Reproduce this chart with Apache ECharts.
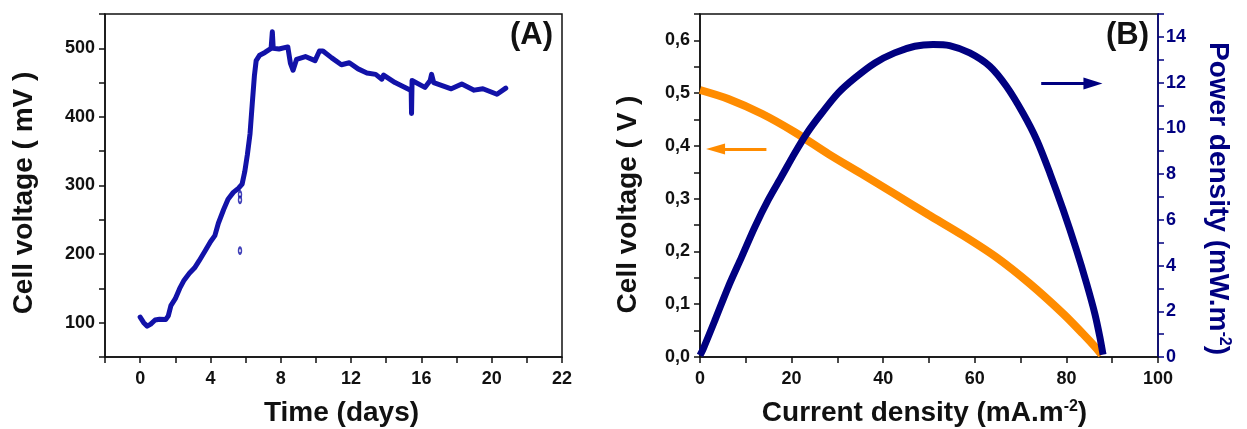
<!DOCTYPE html>
<html><head><meta charset="utf-8">
<script src="https://cdn.jsdelivr.net/npm/echarts@6/dist/echarts.min.js"></script>
<style>html,body{margin:0;padding:0;background:#fff}#c{width:1247px;height:429px}</style>
</head><body><div id="c"></div>
<script>
// ---- Panel A: cell voltage vs time ----
const timeDays = [0, 0.2, 0.4, 0.6, 0.85, 1.1, 1.45, 1.6, 1.75, 2.0, 2.25, 2.5, 2.8, 3.1, 3.35, 3.7, 4.0, 4.25, 4.45, 4.75, 5.0, 5.3, 5.6, 5.8, 5.95, 6.1, 6.25, 6.38, 6.5, 6.6, 6.8, 7.1, 7.45, 7.52, 7.57, 7.9, 8.4, 8.55, 8.7, 8.9, 9.4, 9.95, 10.2, 10.4, 10.9, 11.45, 11.9, 12.4, 12.9, 13.4, 13.75, 13.85, 14.5, 15.3, 15.42, 15.44, 15.47, 16.2, 16.5, 16.58, 16.7, 17.7, 18.3, 19.0, 19.5, 20.3, 20.8];
const cellVoltageMV = [108, 100, 95, 98, 104, 105, 104.5, 110, 125, 135, 150, 162, 172, 180, 190, 205, 218, 227, 245, 265, 280, 290, 296, 302, 320, 345, 375, 420, 460, 482, 490, 494, 500, 524, 500, 499, 502, 478, 468, 484, 488, 482, 496, 496, 486, 476, 479, 470, 464, 462, 455, 461, 450, 440, 438, 405, 453, 443, 453, 462, 450, 441, 448, 439, 441, 433, 442];
const outlierDays = [5.68, 5.68, 5.68];
const outlierMV = [287, 279, 205];
const timeTickLabels = {0: '0', 4: '4', 8: '8', 12: '12', 16: '16', 20: '20', 24: '22'};

// ---- Panel B: polarization and power curves ----
const vCurrent = [0, 6.2, 13.5, 20.7, 28, 35.3, 42.5, 49.8, 57.5, 64.7, 72, 79.3, 83.6, 86.6, 87.7];
const cellVoltageV = [0.506, 0.489, 0.461, 0.426, 0.385, 0.347, 0.309, 0.270, 0.230, 0.189, 0.139, 0.082, 0.044, 0.016, 0.004];
const pCurrent = [0, 0.73, 3.27, 6.18, 9.1, 12.0, 14.9, 17.8, 20.7, 23.6, 26.6, 30.2, 33.8, 38.2, 42.5, 46.9, 50.9, 54.5, 58.9, 63.3, 66.9, 70.5, 73.5, 76.4, 79.3, 82.2, 84.4, 86.2, 87.3, 88.0];
const powerDensity = [0.07, 0.37, 1.61, 3.07, 4.38, 5.7, 6.87, 7.89, 8.92, 9.86, 10.67, 11.55, 12.2, 12.86, 13.3, 13.59, 13.67, 13.62, 13.3, 12.71, 11.84, 10.67, 9.5, 8.04, 6.43, 4.68, 3.22, 1.9, 0.88, 0.1];

const FONT = "'Liberation Sans', Arial, sans-serif";
const BLACK = '#111';
const NAVY = '#000080';
const ORANGE = '#FF8C00';
const LINEBLUE = '#1212a8';

const zip = (a, b) => a.map((x, i) => [x, b[i]]);

const axisLineBlack = {show: true, onZero: false, lineStyle: {color: BLACK, width: 1.5}};
const tickBlack = {show: true, length: 6, lineStyle: {color: BLACK, width: 1.5}};
const labelStyle = {fontFamily: FONT, fontSize: 18, fontWeight: 'bold', color: BLACK};
const nameStyle = {fontFamily: FONT, fontSize: 28, fontWeight: 'bold', color: BLACK};
const supStyle = {fontFamily: FONT, fontSize: 16, fontWeight: 'bold', color: BLACK, verticalAlign: 'top'};

const chart = echarts.init(document.getElementById('c'), null, {renderer: 'canvas'});
chart.setOption({
  backgroundColor: '#fff',
  animation: false,
  grid: [
    {left: 105, right: 685, top: 14, bottom: 72, show: true, borderColor: BLACK, borderWidth: 1.5, backgroundColor: 'transparent', outerBoundsMode: 'none', containLabel: false},
    {left: 700, right: 89, top: 14, bottom: 72, show: true, borderColor: BLACK, borderWidth: 1.5, backgroundColor: 'transparent', outerBoundsMode: 'none', containLabel: false}
  ],
  xAxis: [
    {type: 'value', gridIndex: 0, min: -2, max: 24, interval: 2,
     axisLine: axisLineBlack, axisTick: tickBlack, splitLine: {show: false},
     axisLabel: Object.assign({margin: 13, formatter: v => timeTickLabels[Math.round(v)] || ''}, labelStyle),
     name: 'Time (days)', nameLocation: 'middle', nameGap: 42, nameMoveOverlap: false,
     nameTextStyle: Object.assign({padding: [0, 0, 0, 16]}, nameStyle)},
    {type: 'value', gridIndex: 1, min: 0, max: 100, interval: 10,
     axisLine: axisLineBlack, axisTick: tickBlack, splitLine: {show: false},
     axisLabel: Object.assign({margin: 13, formatter: v => (Math.round(v) % 20 === 0 ? String(Math.round(v)) : '')}, labelStyle),
     name: '{b|Current density (mA.m}{s|-2}{b|)}', nameLocation: 'middle', nameGap: 42, nameMoveOverlap: false,
     nameTextStyle: {padding: [0, 9, 0, 0], rich: {b: nameStyle, s: supStyle}}}
  ],
  yAxis: [
    {type: 'value', gridIndex: 0, min: 50, max: 550, interval: 50,
     axisLine: axisLineBlack, axisTick: tickBlack, splitLine: {show: false},
     axisLabel: Object.assign({margin: 10, formatter: v => (Math.round(v) % 100 === 0 ? String(Math.round(v)) : '')}, labelStyle),
     name: 'Cell voltage ( mV )', nameLocation: 'middle', nameRotate: 90, nameGap: 67, nameMoveOverlap: false,
     nameTextStyle: Object.assign({padding: [0, 15, 0, 0]}, nameStyle)},
    {type: 'value', gridIndex: 1, min: 0, max: 0.65, interval: 0.05,
     axisLine: axisLineBlack, axisTick: tickBlack, splitLine: {show: false},
     axisLabel: Object.assign({margin: 10, formatter: v => { const r = Math.round(v * 100); return r % 10 === 0 ? (r / 100).toFixed(1).replace('.', ',') : ''; }}, labelStyle),
     name: 'Cell voltage ( V )', nameLocation: 'middle', nameRotate: 90, nameGap: 58, nameMoveOverlap: false,
     nameTextStyle: Object.assign({padding: [0, 38, 0, 0]}, nameStyle)},
    {type: 'value', gridIndex: 1, position: 'right', min: 0, max: 15, interval: 1,
     axisLine: {show: true, onZero: false, lineStyle: {color: NAVY, width: 1.5}},
     axisTick: {show: true, length: 6, lineStyle: {color: NAVY, width: 1.5}}, splitLine: {show: false},
     axisLabel: {margin: 8, fontFamily: FONT, fontSize: 18, fontWeight: 'bold', color: NAVY, formatter: v => (Math.round(v) % 2 === 0 ? String(Math.round(v)) : '')},
     name: '{b|Power density (mW.m}{s|-2}{b|)}', nameLocation: 'middle', nameRotate: -90, nameGap: 46, nameMoveOverlap: false,
     nameTextStyle: {padding: [0, 0, 0, 26], rich: {b: {fontFamily: FONT, fontSize: 28, fontWeight: 'bold', color: NAVY}, s: {fontFamily: FONT, fontSize: 16, fontWeight: 'bold', color: NAVY, verticalAlign: 'top'}}}}
  ],
  series: [
    {type: 'line', xAxisIndex: 0, yAxisIndex: 0, data: zip(timeDays, cellVoltageMV), showSymbol: false,
     lineStyle: {color: LINEBLUE, width: 5, join: 'round', cap: 'round'}, z: 3},
    {type: 'scatter', xAxisIndex: 0, yAxisIndex: 0, data: zip(outlierDays, outlierMV), symbol: 'emptyCircle', symbolSize: [3, 6],
     itemStyle: {color: LINEBLUE, borderColor: LINEBLUE, borderWidth: 1}},
    {type: 'line', xAxisIndex: 1, yAxisIndex: 1, data: zip(vCurrent, cellVoltageV), smooth: 0.3, showSymbol: false,
     lineStyle: {color: ORANGE, width: 8}, z: 2,
     markLine: {silent: true, symbol: ['triangle', 'none'], symbolSize: [11, 19], label: {show: false},
       lineStyle: {color: ORANGE, width: 3, type: 'solid'},
       data: [[{coord: [3.4, 0.394]}, {coord: [14.5, 0.394]}]]}},
    {type: 'line', xAxisIndex: 1, yAxisIndex: 2, data: zip(pCurrent, powerDensity), smooth: 0.3, showSymbol: false,
     lineStyle: {color: NAVY, width: 7}, z: 3,
     markLine: {silent: true, symbol: ['none', 'triangle'], symbolSize: [12, 19], label: {show: false},
       lineStyle: {color: NAVY, width: 3, type: 'solid'},
       data: [[{coord: [74.5, 11.96]}, {coord: [85.8, 11.96]}]]}}
  ],
  graphic: [
    {type: 'text', left: 510, top: 20, style: {text: '(A)', font: "bold 31px 'Liberation Sans', Arial, sans-serif", fill: BLACK}},
    {type: 'text', left: 1106, top: 20, style: {text: '(B)', font: "bold 31px 'Liberation Sans', Arial, sans-serif", fill: BLACK}}
  ]
});
</script>
</body></html>
